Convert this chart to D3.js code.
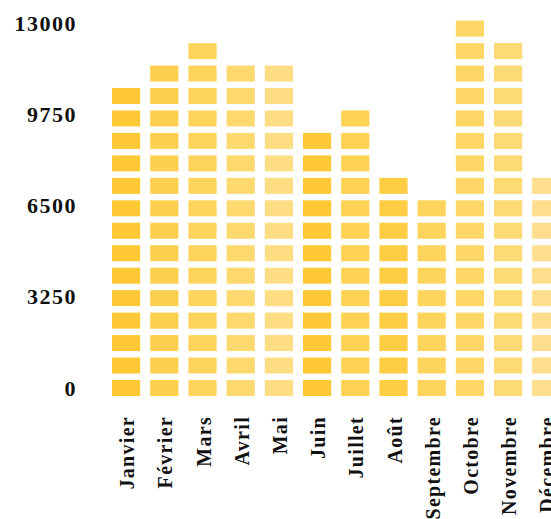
<!DOCTYPE html>
<html>
<head>
<meta charset="utf-8">
<script src="https://cdn.jsdelivr.net/npm/d3@7"></script>
<style>
  body { margin: 0; background: #fff; }
  text { font-family: "Liberation Serif", "DejaVu Serif", serif; font-weight: bold; fill: #111; }
</style>
</head>
<body>
<div id="chart"></div>
<script>
var width = 551,
    height = 519;

// data
var months = ["Janvier", "Février", "Mars", "Avril", "Mai", "Juin", "Juillet", "Août", "Septembre", "Octobre", "Novembre", "Décembre"];
var values = [10900, 11700, 12400, 11500, 11600, 9200, 10100, 7800, 6900, 13000, 12300, 7700];
var yTicks = [0, 3250, 6500, 9750, 13000];
var blockValue = 800;

// one yellow per month
var colors = ["#fec935", "#fed04f", "#fed45c", "#fed96f", "#fedd83", "#fec935", "#fed252", "#fecd43", "#fed45c", "#fed767", "#feda75", "#fede8c"];

var svg = d3.select("#chart").append("svg")
    .attr("width", width)
    .attr("height", height);

var x = d3.scaleBand()
    .domain(months)
    .range([107, 565.4])
    .paddingInner(0.262)
    .paddingOuter(0.131);

var y = d3.scaleLinear()
    .domain([0, 13000])
    .range([388, 23]);

var blockH = 16;

// blocks: one rect per 800 units
var cols = svg.selectAll(".col")
    .data(months)
  .enter().append("g")
    .attr("class", "col")
    .attr("transform", function(d) { return "translate(" + x(d) + ",0)"; });

cols.selectAll("rect")
    .data(function(d, i) {
      var n = Math.ceil(values[i] / blockValue);
      return d3.range(n).map(function(k) { return {k: k, c: colors[i]}; });
    })
  .enter().append("rect")
    .attr("x", 0)
    .attr("y", function(d) { return y(d.k * blockValue) - blockH / 2; })
    .attr("width", x.bandwidth())
    .attr("height", blockH)
    .attr("fill", function(d) { return d.c; });

// y labels
svg.selectAll(".ylab")
    .data(yTicks)
  .enter().append("text")
    .attr("class", "ylab")
    .attr("x", 77)
    .attr("y", function(d) { return y(d); })
    .attr("dy", "0.35em")
    .attr("text-anchor", "end")
    .style("font-size", "22px")
    .style("letter-spacing", "1.5px")
    .text(function(d) { return d; });

// month labels, rotated
svg.selectAll(".xlab")
    .data(months)
  .enter().append("text")
    .attr("class", "xlab")
    .attr("transform", function(d) {
      return "translate(" + (x(d) + x.bandwidth() / 2 + 1) + ",416) rotate(-90)";
    })
    .attr("dy", "0.35em")
    .attr("text-anchor", "end")
    .style("font-size", "20px")
    .style("letter-spacing", "1.3px")
    .text(function(d) { return d; });
</script>
</body>
</html>
